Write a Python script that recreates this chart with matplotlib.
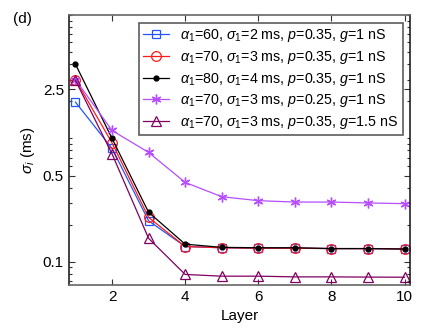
import matplotlib
matplotlib.use("Agg")
import matplotlib.pyplot as plt
from matplotlib.ticker import FixedLocator, FixedFormatter, LogLocator, NullFormatter

plt.rcParams['font.family'] = ['Liberation Sans', 'DejaVu Sans']
plt.rcParams['mathtext.fontset'] = 'custom'
plt.rcParams['mathtext.rm'] = 'Liberation Sans'
plt.rcParams['mathtext.it'] = 'Liberation Sans:italic'
plt.rcParams['mathtext.sf'] = 'Liberation Sans'

layers = [1, 2, 3, 4, 5, 6, 7, 8, 9, 10]
s_blue = [1.97, 0.83, 0.215, 0.133, 0.13, 0.129, 0.129, 0.128, 0.128, 0.127]
s_red = [3.0, 0.92, 0.229, 0.133, 0.13, 0.129, 0.129, 0.128, 0.128, 0.127]
s_black = [4.0, 1.0, 0.252, 0.139, 0.131, 0.130, 0.130, 0.128, 0.128, 0.127]
s_magenta = [3.0, 1.16, 0.77, 0.44, 0.337, 0.313, 0.305, 0.305, 0.300, 0.296]
s_purple = [2.96, 0.75, 0.155, 0.079, 0.0765, 0.0765, 0.0755, 0.0755, 0.0752, 0.075]

labels = [
    r'$\alpha_1$=60, $\sigma_1$=2 ms, $p$=0.35, $g$=1 nS',
    r'$\alpha_1$=70, $\sigma_1$=3 ms, $p$=0.35, $g$=1 nS',
    r'$\alpha_1$=80, $\sigma_1$=4 ms, $p$=0.35, $g$=1 nS',
    r'$\alpha_1$=70, $\sigma_1$=3 ms, $p$=0.25, $g$=1 nS',
    r'$\alpha_1$=70, $\sigma_1$=3 ms, $p$=0.35, $g$=1.5 nS',
]
yticks = [0.1, 0.5, 2.5]
ytick_labels = ['0.1', '0.5', '2.5']
xticks = [2, 4, 6, 8, 10]

fig = plt.figure(figsize=(4.25, 3.34), dpi=100)
ax = fig.add_axes([0.162, 0.147, 0.803, 0.808])

c_blue = '#2255ff'
c_red = '#ff1a1a'
c_black = '#000000'
c_mag = '#b64dff'
c_pur = '#800060'

ax.plot(layers, s_blue, color=c_blue, lw=0.9, marker='s', ms=6, mfc='none', mec=c_blue, mew=0.9, label=labels[0])
ax.plot(layers, s_red, color=c_red, lw=0.9, marker='o', ms=7, mfc='none', mec=c_red, mew=0.9, label=labels[1])
ax.plot(layers, s_black, color=c_black, lw=0.9, marker='o', ms=3.5, mfc=c_black, mec=c_black, label=labels[2])
ax.plot(layers, s_magenta, color=c_mag, lw=0.9, marker=(6, 2, 0), ms=7, mfc=c_mag, mec=c_mag, mew=1.0, label=labels[3])
ax.plot(layers, s_purple, color=c_pur, lw=0.9, marker='^', ms=7, mfc='none', mec=c_pur, mew=0.9, label=labels[4])

ax.set_yscale('log')
ax.set_ylim(0.065, 10)
ax.set_xlim(0.82, 10.15)
ax.yaxis.set_major_locator(FixedLocator(yticks))
ax.yaxis.set_major_formatter(FixedFormatter(ytick_labels))
ax.yaxis.set_minor_locator(LogLocator(base=10, subs=range(1, 10)))
ax.yaxis.set_minor_formatter(NullFormatter())
ax.set_xticks(xticks)
ax.tick_params(direction='in', which='both', top=True, right=True, labelsize=11, length=4, width=0.8, colors='#333333', labelcolor='black')
ax.tick_params(which='minor', length=2.5)
for name, s in ax.spines.items():
    s.set_color('#222222' if name in ('left', 'right') else '#666666')
    s.set_linewidth(1.2)

ax.set_xlabel('Layer', fontsize=11)
ax.set_ylabel(r'$\sigma_i$ (ms)', fontsize=11)

leg = ax.legend(loc='upper right', fontsize=10.3, frameon=True, fancybox=False, borderpad=0.3,
                labelspacing=0.32, handlelength=1.8, handletextpad=0.8, borderaxespad=0.0,
                bbox_to_anchor=(0.98, 0.97))
leg.get_frame().set_edgecolor('#333333')
leg.get_frame().set_linewidth(1.2)

fig.text(0.03, 0.93, '(d)', fontsize=11)

fig.savefig('out.png', dpi=100)
